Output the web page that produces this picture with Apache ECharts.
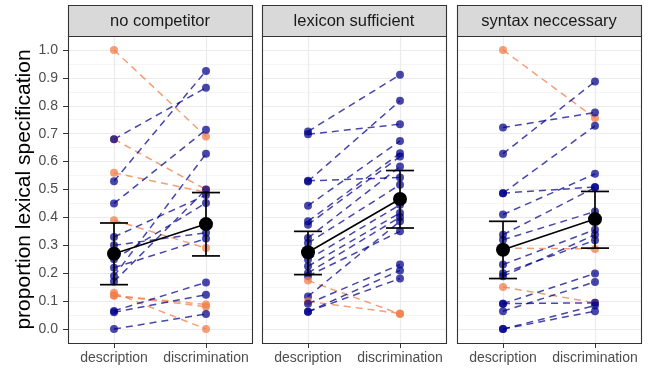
<!DOCTYPE html>
<html>
<head>
<meta charset="utf-8">
<script src="https://cdn.jsdelivr.net/npm/echarts@6/dist/echarts.min.js"></script>
<style>
  html, body { margin: 0; padding: 0; background: #fff; }
  #chart { width: 649px; height: 370px; }
</style>
</head>
<body>
<div id="chart"></div>
<script>
const panels = ['no competitor', 'lexicon sufficient', 'syntax neccessary'];
const conditions = ['description', 'discrimination'];
const yTicks = [0, 0.1, 0.2, 0.3, 0.4, 0.5, 0.6, 0.7, 0.8, 0.9, 1.0];

// one entry per participant, description -> discrimination
const descNoComp = [1.00, 0.68, 0.68, 0.56, 0.53, 0.45, 0.39, 0.33, 0.30, 0.25, 0.22, 0.19, 0.17, 0.13, 0.12, 0.12, 0.065, 0.06, 0.00];
const discNoComp = [0.69, 0.50, 0.865, 0.49, 0.925, 0.714, 0.29, 0.48, 0.345, 0.452, 0.324, 0.628, 0.50, 0.00, 0.088, 0.08, 0.167, 0.123, 0.054];

const descLexicon = [0.708, 0.698, 0.531, 0.529, 0.442, 0.386, 0.374, 0.326, 0.308, 0.249, 0.225, 0.201, 0.19, 0.174, 0.117, 0.099, 0.091, 0.062, 0.062];
const discLexicon = [0.911, 0.734, 0.543, 0.818, 0.674, 0.630, 0.618, 0.582, 0.517, 0.445, 0.416, 0.401, 0.35, 0.054, 0.386, 0.056, 0.231, 0.21, 0.181];

const descSyntax = [1.00, 0.722, 0.628, 0.487, 0.487, 0.41, 0.338, 0.32, 0.29, 0.231, 0.189, 0.20, 0.151, 0.091, 0.091, 0.064, 0.00, 0.00];
const discSyntax = [0.756, 0.776, 0.887, 0.728, 0.509, 0.556, 0.507, 0.421, 0.287, 0.356, 0.338, 0.318, 0.094, 0.199, 0.094, 0.169, 0.084, 0.064];

// group means and error bars
const meanDesc = [0.27, 0.275, 0.284];
const meanDisc = [0.376, 0.466, 0.394];
const lowDesc = [0.159, 0.195, 0.181];
const highDesc = [0.38, 0.35, 0.386];
const lowDisc = [0.262, 0.362, 0.29];
const highDisc = [0.489, 0.568, 0.493];

const pairs = [[descNoComp, discNoComp], [descLexicon, discLexicon], [descSyntax, discSyntax]];

const FONT = 'Liberation Sans, Arial, sans-serif';
const BLUE = 'rgba(0,0,139,0.72)';
const ORANGE = 'rgba(242,125,75,0.75)';
const panelLeft = [68, 262, 457];
const panelWidth = 184;
const panelTop = 36;
const panelHeight = 307;
const stripTop = 5;

const chart = echarts.init(document.getElementById('chart'), null, { renderer: 'canvas' });

const grid = [];
const xAxis = [];
const yAxis = [];
const series = [];
const graphic = [];

panels.forEach((name, i) => {
  grid.push({
    left: panelLeft[i], top: panelTop, width: panelWidth, height: panelHeight,
    show: true, borderWidth: 0, backgroundColor: '#fff'
  });

  // categories, ticks and labels
  xAxis.push({
    type: 'category', gridIndex: i, data: conditions, boundaryGap: true, position: 'bottom',
    axisLine: { show: false, onZero: false },
    axisTick: { show: true, alignWithLabel: true, length: 5, lineStyle: { color: '#333333' } },
    axisLabel: { interval: 0, color: '#4d4d4d', fontSize: 14, fontFamily: FONT, margin: 8 },
    splitLine: { show: false }
  });
  // vertical grid lines at the two categories
  xAxis.push({
    type: 'value', gridIndex: i, min: 0.5, max: 2.5, interval: 0.5, position: 'top',
    axisLine: { show: false, onZero: false }, axisTick: { show: false }, axisLabel: { show: false },
    splitLine: { show: true, lineStyle: { color: ['rgba(0,0,0,0)', '#EBEBEB'], width: 1.2 } }
  });

  // horizontal major + minor grid lines
  yAxis.push({
    type: 'value', gridIndex: i, min: -0.05, max: 1.05, interval: 0.05,
    axisLine: { show: false, onZero: false }, axisTick: { show: false }, axisLabel: { show: false },
    splitLine: { show: true, lineStyle: { color: ['#F5F5F5', '#EBEBEB'], width: 1.2 } }
  });
  // tick labels only on the first panel
  yAxis.push({
    type: 'value', gridIndex: i, min: -0.05, max: 1.05, position: 'left',
    show: i === 0,
    axisLine: { show: false, onZero: false },
    axisTick: { show: true, length: 5, customValues: yTicks, lineStyle: { color: '#333333' } },
    axisLabel: {
      customValues: yTicks, formatter: v => v.toFixed(1),
      color: '#4d4d4d', fontSize: 14, fontFamily: FONT, margin: 10
    },
    splitLine: { show: false },
    name: i === 0 ? 'proportion lexical specification' : '',
    nameLocation: 'middle', nameGap: 33,
    nameTextStyle: { color: '#000', fontSize: 21, fontFamily: FONT }
  });

  // participant lines
  const [desc, disc] = pairs[i];
  desc.forEach((d, k) => {
    const col = disc[k] < d ? ORANGE : BLUE;
    series.push({
      type: 'line', xAxisIndex: i * 2, yAxisIndex: i * 2,
      data: [d, disc[k]],
      symbol: 'circle', symbolSize: 8, showSymbol: true,
      itemStyle: { color: col },
      lineStyle: { color: col, width: 1.5, type: [7, 5] },
      z: 2, silent: true, animation: false
    });
  });

  // mean line
  series.push({
    type: 'line', xAxisIndex: i * 2, yAxisIndex: i * 2,
    data: [meanDesc[i], meanDisc[i]],
    symbol: 'circle', symbolSize: 14,
    itemStyle: { color: '#000' },
    lineStyle: { color: '#000', width: 1.6 },
    z: 6, silent: true, animation: false
  });

  // error bars
  series.push({
    type: 'custom', xAxisIndex: i * 2, yAxisIndex: i * 2,
    data: [[0, lowDesc[i], highDesc[i]], [1, lowDisc[i], highDisc[i]]],
    renderItem: (params, api) => {
      const x = api.value(0);
      const lo = api.coord([x, api.value(1)]);
      const hi = api.coord([x, api.value(2)]);
      const w = 14;
      const st = { stroke: '#000', lineWidth: 1.7 };
      return {
        type: 'group',
        children: [
          { type: 'line', shape: { x1: lo[0], y1: lo[1], x2: hi[0], y2: hi[1] }, style: st },
          { type: 'line', shape: { x1: lo[0] - w, y1: lo[1], x2: lo[0] + w, y2: lo[1] }, style: st },
          { type: 'line', shape: { x1: hi[0] - w, y1: hi[1], x2: hi[0] + w, y2: hi[1] }, style: st }
        ]
      };
    },
    z: 5, silent: true, animation: false
  });

  // panel border on top of everything
  graphic.push({
    type: 'rect', silent: true, z: 100,
    shape: { x: panelLeft[i] + 0.5, y: panelTop + 0.5, width: panelWidth, height: panelHeight },
    style: { fill: 'none', stroke: '#333333', lineWidth: 1.1 }
  });
  // facet strip
  graphic.push({
    type: 'rect', silent: true, z: 100,
    shape: { x: panelLeft[i] + 0.5, y: stripTop + 0.5, width: panelWidth, height: panelTop - stripTop },
    style: { fill: '#D9D9D9', stroke: '#333333', lineWidth: 1.1 }
  });
  graphic.push({
    type: 'text', silent: true, z: 101,
    x: panelLeft[i] + panelWidth / 2, y: (stripTop + panelTop) / 2 + 1,
    style: { text: name, fill: '#1a1a1a', fontSize: 16.5, fontFamily: FONT, align: 'center', verticalAlign: 'middle' }
  });
});

chart.setOption({
  animation: false,
  backgroundColor: '#fff',
  grid, xAxis, yAxis, series, graphic
});
</script>
</body>
</html>
